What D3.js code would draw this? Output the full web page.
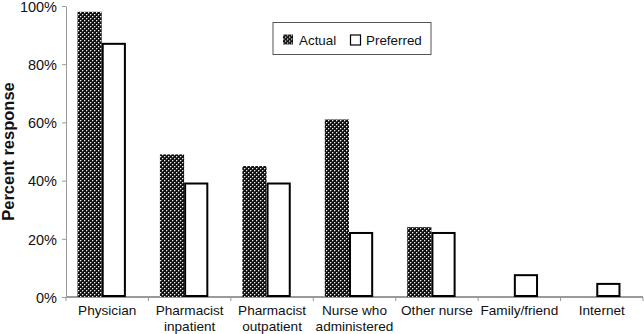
<!DOCTYPE html>
<html lang="en">
<head>
   <meta charset="UTF-8">
   <title>Percent response</title>
   <style>
      body { margin: 0; background: white; }
      text { font-family: "Liberation Sans", Arial, sans-serif; fill: #111; }
      .axis path, .axis line { stroke: #9a9a9a; }
   </style>
   <script src="https://cdn.jsdelivr.net/npm/d3@7"></script>
</head>
<body>
   <div class="d3"></div>
   <script>
      // data
      const categories = [
         ['Physician'],
         ['Pharmacist', 'inpatient'],
         ['Pharmacist', 'outpatient'],
         ['Nurse who', 'administered'],
         ['Other nurse'],
         ['Family/friend'],
         ['Internet']
      ]
      const seriesNames = ['Actual', 'Preferred']
      const actual = [98, 49, 45, 61, 24, 0, 0]
      const preferred = [87, 39, 39, 22, 22, 7.5, 4.5]
      const yTicks = [0, 20, 40, 60, 80, 100]

      const W = 644, H = 334
      const padding = { top: 6, right: 1, bottom: 37, left: 66 }

      const svg = d3.select('.d3').append('svg')
         .attr('width', W)
         .attr('height', H)

      // pattern for actual bars
      const pat = svg.append('defs').append('pattern')
         .attr('id', 'dots')
         .attr('patternUnits', 'userSpaceOnUse')
         .attr('width', 4)
         .attr('height', 4)
      pat.append('rect').attr('width', 4).attr('height', 4).attr('fill', '#111')
      const px = [[0, 0, '#f4f4f4'], [2, 2, '#f4f4f4'], [1, 0, '#555'], [0, 1, '#555'], [3, 2, '#555'], [2, 3, '#555']]
      pat.selectAll('rect.px')
         .data(px)
         .enter()
         .append('rect')
            .attr('class', 'px')
            .attr('x', d => d[0]).attr('y', d => d[1])
            .attr('width', 1).attr('height', 1)
            .attr('fill', d => d[2])

      const x0 = d3.scaleBand()
         .domain(d3.range(categories.length))
         .range([padding.left, W - padding.right])

      const x1 = d3.scaleBand()
         .domain(seriesNames)
         .range([11.5, 11.5 + 48.4])

      const y = d3.scaleLinear()
         .domain([0, 100])
         .range([H - padding.bottom, padding.top])

      // y axis
      const yAxis = svg.append('g')
         .attr('class', 'axis')
         .attr('transform', `translate(${padding.left},0)`)
         .call(d3.axisLeft(y).tickValues(yTicks).tickSize(4).tickSizeOuter(0).tickFormat(d => d + '%'))
      yAxis.selectAll('text')
         .attr('font-size', 14.5)
         .attr('x', -9)
         .attr('dy', '0.37em')
         .style('fill', '#111')
         .style('font-family', '"Liberation Sans", Arial, sans-serif')

      // x axis with ticks on band boundaries
      const xAxis = svg.append('g')
         .attr('class', 'axis')
         .attr('transform', `translate(0,${y(0)})`)
      xAxis.append('line')
         .attr('x1', padding.left).attr('x2', W - padding.right)
         .attr('stroke-width', 2)
      xAxis.selectAll('line.tick')
         .data(d3.range(categories.length + 1))
         .enter()
         .append('line')
            .attr('class', 'tick')
            .attr('x1', i => i < categories.length ? x0(i) : x0(i - 1) + x0.bandwidth())
            .attr('x2', i => i < categories.length ? x0(i) : x0(i - 1) + x0.bandwidth())
            .attr('y1', 0).attr('y2', 4)

      const labels = svg.append('g')
         .selectAll('text')
         .data(categories)
         .enter()
         .append('text')
            .attr('text-anchor', 'middle')
            .attr('font-size', 13.6)
            .attr('x', (d, i) => x0(i) + x0.bandwidth() / 2)
            .attr('y', y(0) + 18)
      labels.selectAll('tspan')
         .data(d => d)
         .enter()
         .append('tspan')
            .attr('x', function () { return this.parentNode.getAttribute('x') })
            .attr('dy', (d, i) => i ? 16 : 0)
            .text(d => d)

      // bars
      const group = svg.append('g')
      group.selectAll('rect.actual')
         .data(actual)
         .enter()
         .filter(d => d > 0)
         .append('rect')
            .attr('class', 'actual')
            .attr('x', (d, i) => x0(i) + x1('Actual'))
            .attr('y', d => y(d))
            .attr('width', x1.bandwidth())
            .attr('height', d => y(0) - y(d))
            .attr('fill', 'url(#dots)')

      group.selectAll('rect.preferred')
         .data(preferred)
         .enter()
         .append('rect')
            .attr('class', 'preferred')
            .attr('x', (d, i) => x0(i) + x1('Preferred') + 1)
            .attr('y', d => y(d))
            .attr('width', x1.bandwidth() - 2)
            .attr('height', d => y(0) - y(d) - 1)
            .attr('fill', 'white')
            .attr('stroke', '#000')
            .attr('stroke-width', 2)

      // y title
      svg.append('text')
         .attr('transform', `translate(14,${(y(0) + y(100)) / 2}) rotate(-90)`)
         .attr('text-anchor', 'middle')
         .attr('font-size', 16.5)
         .attr('font-weight', 'bold')
         .text('Percent response')

      // legend
      const legend = svg.append('g').attr('transform', 'translate(273,22.5)')
      legend.append('rect')
         .attr('width', 158).attr('height', 32)
         .attr('fill', 'white')
         .attr('stroke', '#555')
      const items = legend.selectAll('g.item')
         .data(seriesNames)
         .enter()
         .append('g')
            .attr('transform', (d, i) => `translate(${i ? 77 : 10},12)`)
      items.append('rect')
         .attr('width', 10).attr('height', 10)
         .attr('x', (d, i) => i ? 0.5 : 0)
         .attr('y', (d, i) => i ? 0.5 : 0)
         .attr('fill', (d, i) => i ? 'white' : 'url(#dots)')
         .attr('stroke', (d, i) => i ? '#000' : 'none')
         .attr('stroke-width', 1.2)
      items.append('text')
         .attr('x', 16)
         .attr('y', 10.5)
         .attr('font-size', 13.4)
         .text(d => d)
   </script>
</body>
</html>
